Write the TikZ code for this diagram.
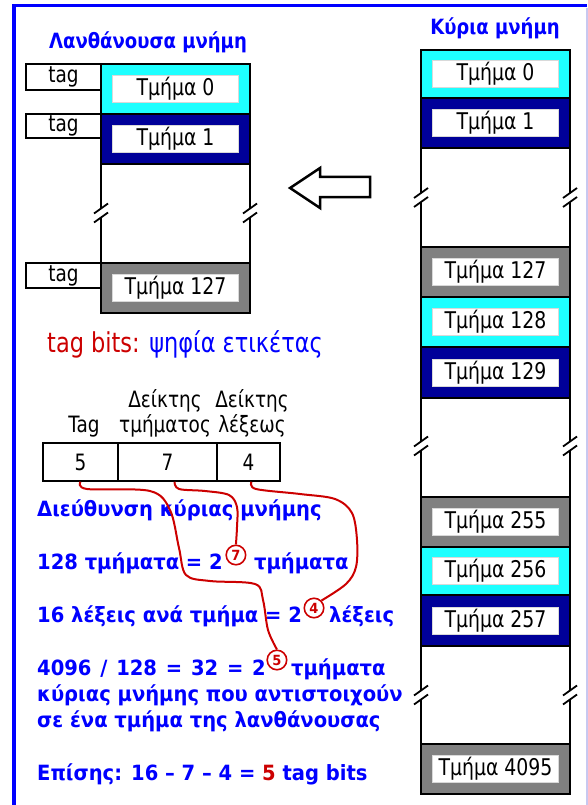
\documentclass[tikz,border=0pt]{standalone}
\usepackage{fontspec}
\setmainfont[FakeStretch=0.82]{DejaVu Sans}
\newfontfamily\boldfam[FakeStretch=0.93]{DejaVu Sans}
\newfontfamily\titlefam[FakeStretch=0.86]{DejaVu Sans}
\usetikzlibrary{calc}
\definecolor{tblue}{RGB}{0,0,255}
\definecolor{tred}{RGB}{204,0,0}
\definecolor{cyanfill}{RGB}{30,255,255}
\definecolor{navyfill}{RGB}{0,0,153}
\definecolor{grayfill}{RGB}{128,128,128}
\definecolor{lav}{RGB}{200,200,240}
\newcommand{\gapcol}[4]{% x, ytop, ybot, ymid
  \draw[edge] (#1,#2) -- (#1,#4-4.5);
  \draw[edge] (#1,#4+4.5) -- (#1,#3);
  \draw[edge] (#1-7,#4+0.5) -- (#1+7,#4-9.5);
  \draw[edge] (#1-7,#4+9.5) -- (#1+7,#4-0.5);
}
\begin{document}
\begin{tikzpicture}[x=1pt,y=-1pt,
  edge/.style={line width=1.8, black},
  blk/.style={draw=black, line width=1.8, minimum width=149, inner sep=0},
  innerbox/.style={fill=white, draw=black!15, line width=0.5, minimum width=126, minimum height=27, inner sep=0, font=\fontsize{23}{26}\selectfont},
  tagbox/.style={draw=black, line width=1.5, minimum width=75, inner sep=0, font=\fontsize{22.5}{26}\selectfont},
  title/.style={font=\fontsize{21}{24}\selectfont\titlefam\bfseries, text=tblue, inner sep=0},
  lbl/.style={font=\fontsize{22.5}{26}\selectfont, inner sep=0},
  cellbox/.style={draw=black, line width=1.5, minimum height=38, inner sep=0, font=\fontsize{22.5}{26}\selectfont},
  btext/.style={font=\fontsize{21}{24}\selectfont\boldfam\bfseries, text=tblue, inner sep=0, anchor=base west},
  circnum/.style={circle, draw=tred, line width=1.6, minimum size=19.5, inner sep=0, text=tred, font=\fontsize{14}{16}\selectfont\boldfam\bfseries},
  redline/.style={tred, line width=2},
]
\useasboundingbox (0,0) rectangle (588,805);

% frame
\draw[tblue, line width=3] (12,6) -- (587,6);
\draw[tblue, line width=4] (13.5,4.5) -- (13.5,805);
\draw[lav, line width=2] (587,8) -- (587,805);

% titles
\node[title, anchor=base] (cachetitle) at (148,49) {Λανθάνουσα μνήμη};
\node[title, anchor=base] (maintitle) at (495,35) {Κύρια μνήμη};

% cache tags
\node[tagbox, minimum height=26] (tag0) at (63.5,77) {tag};
\node[tagbox, minimum height=24] (tag1) at (63.5,126) {tag};
\node[tagbox, minimum height=25] (tag2) at (63.5,275.5) {tag};

% cache blocks
\node[blk, fill=cyanfill, minimum height=50] (cb0) at (175.5,89) {};
\node[innerbox] (cb0t) at (cb0) {Τμήμα 0};
\node[blk, fill=navyfill, minimum height=50] (cb1) at (175.5,139) {};
\node[innerbox] (cb1t) at (cb1) {Τμήμα 1};
\gapcol{101}{164}{263}{213}
\gapcol{250}{164}{263}{213}
\node[blk, fill=grayfill, minimum height=50] (cb127) at (175.5,288) {};
\node[innerbox] (cb127t) at (cb127) {Τμήμα 127};

% main memory blocks
\node[blk, fill=cyanfill, minimum height=48] (mb0) at (495.5,74) {};
\node[innerbox] (mb0t) at (mb0) {Τμήμα 0};
\node[blk, fill=navyfill, minimum height=50] (mb1) at (495.5,123) {};
\node[innerbox] (mb1t) at (mb1) {Τμήμα 1};
\gapcol{421}{148}{247}{197.5}
\gapcol{570}{148}{247}{197.5}
\node[blk, fill=grayfill, minimum height=50] (mb127) at (495.5,272) {};
\node[innerbox] (mb127t) at (mb127) {Τμήμα 127};
\node[blk, fill=cyanfill, minimum height=50] (mb128) at (495.5,322) {};
\node[innerbox] (mb128t) at (mb128) {Τμήμα 128};
\node[blk, fill=navyfill, minimum height=51] (mb129) at (495.5,372.5) {};
\node[innerbox] (mb129t) at (mb129) {Τμήμα 129};
\gapcol{421}{398}{497}{446}
\gapcol{570}{398}{497}{446}
\node[blk, fill=grayfill, minimum height=50] (mb255) at (495.5,522) {};
\node[innerbox] (mb255t) at (mb255) {Τμήμα 255};
\node[blk, fill=cyanfill, minimum height=48] (mb256) at (495.5,571) {};
\node[innerbox] (mb256t) at (mb256) {Τμήμα 256};
\node[blk, fill=navyfill, minimum height=51] (mb257) at (495.5,620.5) {};
\node[innerbox] (mb257t) at (mb257) {Τμήμα 257};
\gapcol{421}{646}{744}{695}
\gapcol{570}{646}{744}{695}
\node[blk, fill=grayfill, minimum height=50] (mb4095) at (495.5,769) {};
\node[innerbox] (mb4095t) at (mb4095) {Τμήμα 4095};

% big arrow
\draw[line width=2.5, line join=miter, fill=white] (290,188) -- (320,168) -- (320,177) -- (370,177) -- (370,197) -- (320,197) -- (320,208) -- cycle;

% tag bits text
\node[anchor=base west, inner sep=0, font=\fontsize{27.4}{32}\selectfont] (tagbits) at (47,352) {\textcolor{tred}{tag bits:} \textcolor{tblue}{ψηφία ετικέτας}};

% address labels
\node[lbl, anchor=base] (ltag) at (84,432) {Tag};
\node[lbl, anchor=base] (ld1) at (165,407) {Δείκτης};
\node[lbl, anchor=base] (ld2) at (165,432) {τμήματος};
\node[lbl, anchor=base] (ld3) at (252,407) {Δείκτης};
\node[lbl, anchor=base] (ld4) at (252,432) {λέξεως};

% address cells
\node[cellbox, minimum width=75] (cell5) at (80.5,462) {5};
\node[cellbox, minimum width=99] (cell7) at (167.5,462) {7};
\node[cellbox, minimum width=63] (cell4) at (248.5,462) {4};

% text lines
\node[btext] (l1) at (37,516) {Διεύθυνση κύριας μνήμης};
\node[btext] (l2a) at (37,569) {128 τμήματα = 2};
\node[circnum] (c7) at ($(l2a.base east)+(13,-14)$) {7};
\node[btext] (l2b) at ($(l2a.base east)+(31,0)$) {τμήματα};
\node[btext] (l3a) at (37,622) {16 λέξεις ανά τμήμα = 2};
\node[circnum] (c4) at ($(l3a.base east)+(12,-14)$) {4};
\node[btext] (l3b) at ($(l3a.base east)+(27,0)$) {λέξεις};
\node[btext] (l4a) at (37,675) {\spaceskip=8.8pt\relax 4096 / 128 = 32 = 2};
\node[circnum] (c5) at ($(l4a.base east)+(11,-15)$) {5};
\node[btext] (l4b) at ($(l4a.base east)+(25,0)$) {τμήματα};
\node[btext] (l5) at (37,701) {κύριας μνήμης που αντιστοιχούν};
\node[btext] (l6) at (37,727) {σε ένα τμήμα της λανθάνουσας};
\node[btext] (l7) at (37,780) {Επίσης: 16 – 7 – 4 = \textcolor{tred}{5} tag bits};

% red curves
\draw[redline] plot[smooth, tension=0.55] coordinates {(cell5.south) (87,489) (150,491) (170,510) (179,548) (186,575) (210,581) (255,584) (263,600) (268,630) (c5.north)};
\draw[redline] plot[smooth, tension=0.55] coordinates {($(cell7.south)+(7,0)$) (179,489) (205,491) (229,495) (237,507) (237,527) (c7.north)};
\draw[redline] plot[smooth, tension=0.55] coordinates {($(cell4.south)+(3,0)$) (256,489) (300,494) (335,499) (352,513) (357,540) (356,567) (346,584) (c4.north east)};
\end{tikzpicture}
\end{document}
